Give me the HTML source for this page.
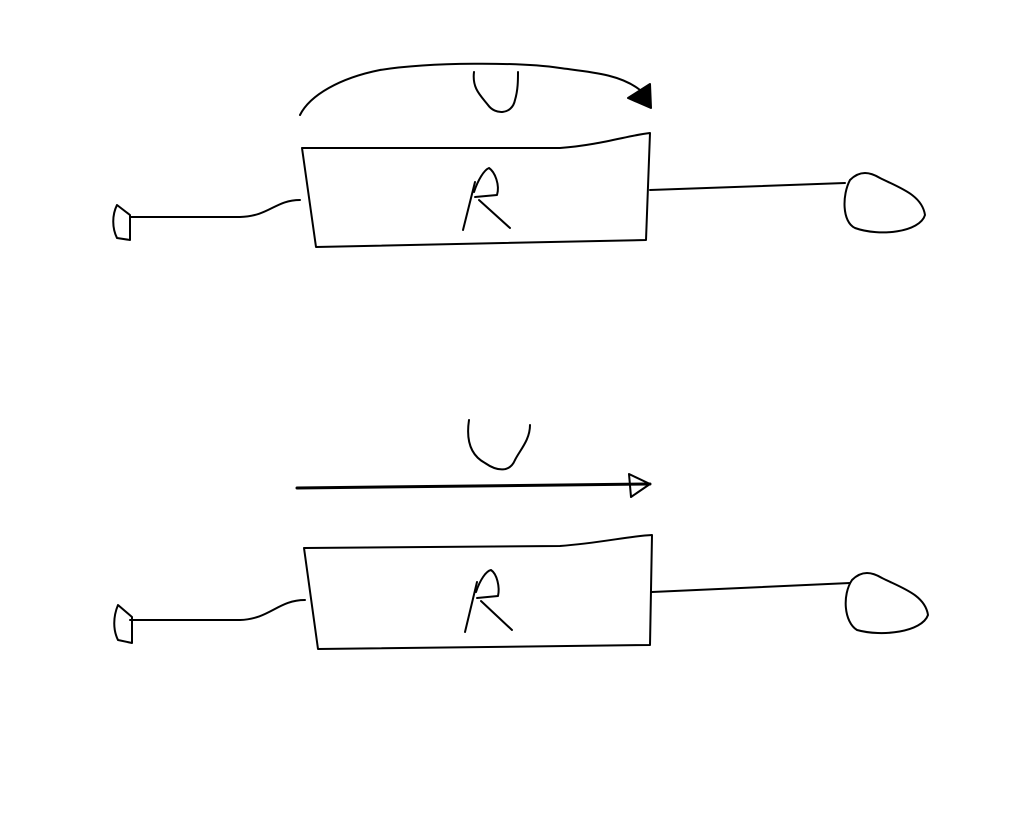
<!DOCTYPE html>
<html><head><meta charset="utf-8"><style>html,body{margin:0;padding:0;background:#fff;width:1019px;height:820px;overflow:hidden}</style></head>
<body>
<svg width="1019" height="820" viewBox="0 0 1019 820" xmlns="http://www.w3.org/2000/svg" fill="none" stroke="#000" stroke-width="2" stroke-linejoin="round" stroke-linecap="round">
<!-- Top diagram -->
<path d="M300,115 C310,95 340,78 380,70 C430,62 520,62 560,68 C590,72 620,74 640,90"/>
<path d="M628,98 L650,84 L651,108 Z" fill="#000"/>
<path d="M474,72 C472,88 480,95 488,105 C495,115 512,115 515,100 C518,90 518,80 518,72"/>
<path d="M302,148 L560,148 C600,145 630,135 650,133 L646,240 L316,247 Z"/>
<path d="M475,182 L463,230"/>
<path d="M474,192 C478,180 484,170 489,168 C495,172 500,185 497,195 L475,197"/>
<path d="M479,200 L510,228"/>
<path d="M130,217 L240,217 C270,216 275,200 300,200"/>
<path d="M117,205 L130,215 L130,240 L117,238 C112,228 112,215 117,205 Z"/>
<path d="M650,190 L845,183"/>
<path d="M850,180 C860,170 870,172 880,178 C900,188 922,195 925,215 C920,232 880,237 855,228 C842,222 842,195 850,180 Z"/>
<!-- Bottom diagram -->
<path d="M469,420 C466,440 470,455 485,463 C498,472 510,472 515,460 C520,450 530,440 530,425"/>
<path d="M297,488 L650,484" stroke-width="3"/>
<path d="M629,474 L650,484 L631,497 Z"/>
<path d="M304,548 L560,546 C600,543 630,536 652,535 L650,645 L318,649 Z"/>
<path d="M477,582 L465,632"/>
<path d="M476,592 C480,580 486,571 491,570 C497,574 500,587 498,596 L477,598"/>
<path d="M481,601 L512,630"/>
<path d="M130,620 L240,620 C270,619 278,600 305,600"/>
<path d="M118,605 L132,617 L132,643 L118,640 C113,630 113,617 118,605 Z"/>
<path d="M652,592 L850,583"/>
<path d="M852,580 C862,570 872,572 882,578 C902,588 925,595 928,615 C922,632 882,637 857,630 C844,622 842,595 852,580 Z"/>
</svg>
</body></html>
